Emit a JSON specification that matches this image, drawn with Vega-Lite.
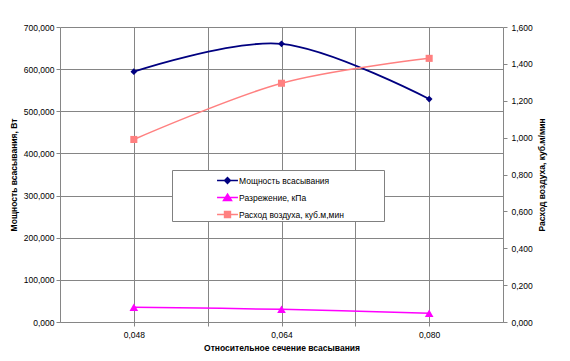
{
  "$schema": "https://vega.github.io/schema/vega-lite/v6.json",
  "width": 443,
  "height": 295,
  "autosize": {"type": "none"},
  "padding": {"left": 60, "top": 27, "right": 67, "bottom": 39},
  "background": "white",
  "config": {
    "font": "Liberation Sans",
    "view": {"stroke": null},
    "axis": {
      "labelFont": "Liberation Sans",
      "titleFont": "Liberation Sans",
      "labelFontSize": 8.5,
      "titleFontSize": 8.5,
      "titleFontWeight": "bold",
      "labelColor": "#000000",
      "titleColor": "#000000",
      "domainColor": "#868686",
      "tickColor": "#868686",
      "gridColor": "#858585",
      "gridOpacity": 1,
      "tickSize": 4,
      "labelPadding": 2
    },
    "legend": {
      "orient": "none",
      "legendX": 112,
      "legendY": 143,
      "padding": 0,
      "fillColor": "white",
      "strokeColor": "#808080",
      "symbolOffset": 45,
      "labelOffset": 1,
      "rowPadding": 0,
      "symbolSize": 361,
      "symbolStrokeWidth": 1.3,
      "symbolOpacity": 1,
      "labelFont": "Liberation Sans",
      "labelFontSize": 8.5,
      "labelColor": "#000000",
      "labelLimit": 300,
      "titleOrient": "right",
      "titlePadding": 40,
      "titleFontSize": 8.5,
      "titleFont": "Liberation Sans"
    }
  },
  "data": {
    "values": [
      {"x": 0.048, "series": "Мощность всасывания", "value": 594},
      {"x": 0.064, "series": "Мощность всасывания", "value": 660},
      {"x": 0.080, "series": "Мощность всасывания", "value": 529},
      {"x": 0.048, "series": "Разрежение, кПа", "value": 35},
      {"x": 0.064, "series": "Разрежение, кПа", "value": 30},
      {"x": 0.080, "series": "Разрежение, кПа", "value": 21},
      {"x": 0.048, "series": "Расход воздуха, куб.м,мин", "value": 0.99},
      {"x": 0.064, "series": "Расход воздуха, куб.м,мин", "value": 1.295},
      {"x": 0.080, "series": "Расход воздуха, куб.м,мин", "value": 1.43}
    ]
  },
  "encoding": {
    "x": {
      "field": "x",
      "type": "quantitative",
      "scale": {"domain": [0.04, 0.088], "nice": false, "zero": false},
      "axis": {
        "values": [0.048, 0.056, 0.064, 0.072, 0.08],
        "labelExpr": "round(datum.value * 1000) % 16 == 0 ? replace(format(datum.value, '.3f'), '.', ',') : ''",
        "title": "Относительное сечение всасывания",
        "grid": true,
        "labelPadding": 4,
        "titlePadding": 5
      }
    }
  },
  "layer": [
    {
      "encoding": {
        "y": {
          "field": "value",
          "type": "quantitative",
          "scale": {"domain": [0, 700], "nice": false},
          "axis": {
            "orient": "left",
            "values": [0, 100, 200, 300, 400, 500, 600, 700],
            "labelExpr": "replace(format(datum.value, '.3f'), '.', ',')",
            "title": "Мощность всасывания, Вт",
            "grid": true,
            "titlePadding": 5
          }
        }
      },
      "layer": [
        {
          "transform": [{"filter": "datum.series == 'Мощность всасывания'"}],
          "mark": {"type": "line", "interpolate": "cardinal", "strokeWidth": 1.8, "color": "#000080"}
        },
        {
          "transform": [{"filter": "datum.series == 'Разрежение, кПа'"}],
          "mark": {"type": "line", "interpolate": "cardinal", "strokeWidth": 1.5, "color": "#FF00FF"}
        },
        {
          "transform": [{"filter": "datum.series == 'Мощность всасывания'"}],
          "mark": {"type": "point", "shape": "diamond", "filled": true, "opacity": 1, "size": 45, "color": "#000080"}
        },
        {
          "transform": [{"filter": "datum.series == 'Разрежение, кПа'"}],
          "mark": {"type": "point", "shape": "triangle-up", "filled": true, "opacity": 1, "size": 75, "color": "#FF00FF"}
        },
        {
          "mark": {"type": "point", "filled": true, "opacity": 0},
          "encoding": {
            "fill": {
              "field": "series",
              "type": "nominal",
              "scale": {
                "domain": ["Мощность всасывания", "Разрежение, кПа", "Расход воздуха, куб.м,мин"],
                "range": ["#000080", "#FF00FF", "#FF8080"]
              },
              "legend": {"title": "\u00a0"}
            },
            "stroke": {
              "field": "series",
              "type": "nominal",
              "scale": {
                "domain": ["Мощность всасывания", "Разрежение, кПа", "Расход воздуха, куб.м,мин"],
                "range": ["#000080", "#FF00FF", "#FF8080"]
              },
              "legend": {"title": "\u00a0"}
            },
            "shape": {
              "field": "series",
              "type": "nominal",
              "scale": {
                "domain": ["Мощность всасывания", "Разрежение, кПа", "Расход воздуха, куб.м,мин"],
                "range": [
                  "M-1.1,0H1.1M0,-0.32L0.32,0L0,0.32L-0.32,0Z",
                  "M-1.1,0H1.1M0,-0.38L0.44,0.32L-0.44,0.32Z",
                  "M-1.1,0H1.1M-0.32,-0.32H0.32V0.32H-0.32Z"
                ]
              },
              "legend": {"title": "\u00a0"}
            }
          }
        }
      ]
    },
    {
      "transform": [{"filter": "datum.series == 'Расход воздуха, куб.м,мин'"}],
      "encoding": {
        "y": {
          "field": "value",
          "type": "quantitative",
          "scale": {"domain": [0, 1.6], "nice": false},
          "axis": {
            "orient": "right",
            "values": [0, 0.2, 0.4, 0.6, 0.8, 1, 1.2, 1.4, 1.6],
            "labelExpr": "replace(format(datum.value, '.3f'), '.', ',')",
            "title": "Расход воздуха, куб.м/мин",
            "titleAngle": -90,
            "titleBaseline": "top",
            "grid": false,
            "labelPadding": 4,
            "titlePadding": 5
          }
        }
      },
      "layer": [
        {
          "mark": {"type": "line", "interpolate": "cardinal", "strokeWidth": 1.5, "color": "#FF8080"}
        },
        {
          "mark": {"type": "point", "shape": "square", "filled": true, "opacity": 1, "size": 50, "color": "#FF8080"}
        }
      ]
    }
  ],
  "resolve": {"scale": {"y": "independent"}}
}
